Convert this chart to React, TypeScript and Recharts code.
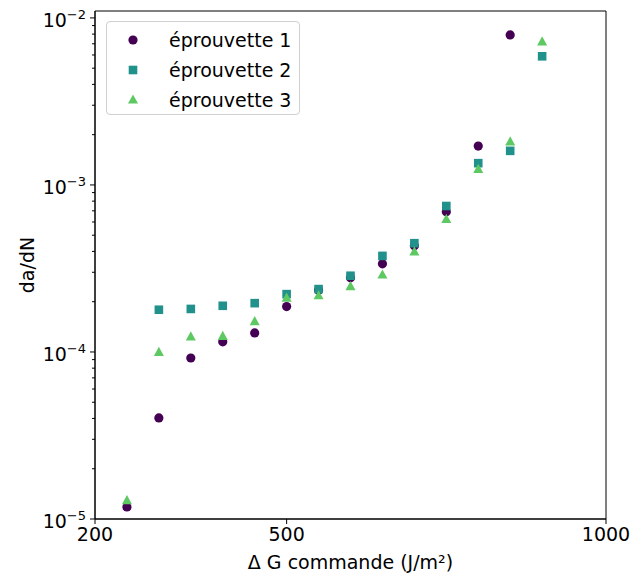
import React from 'react';
import {
  ScatterChart,
  Scatter,
  XAxis,
  YAxis,
  Legend,
  ReferenceArea,
  Label
} from 'recharts';

const FONT = '"DejaVu Sans", sans-serif';

// ΔG commande (J/m²)
const dG1 = [250, 300, 350, 400, 450, 500, 550, 600, 650, 700, 750, 800, 850];
const dG2 = [300, 350, 400, 450, 500, 550, 600, 650, 700, 750, 800, 850, 900];
const dG3 = [250, 300, 350, 400, 450, 500, 550, 600, 650, 700, 750, 800, 850, 900];

// da/dN
const da1 = [1.18e-5, 4.03e-5, 9.2e-5, 1.15e-4, 1.3e-4, 1.87e-4, 2.35e-4, 2.78e-4, 3.37e-4, 4.32e-4, 6.92e-4, 1.71e-3, 7.91e-3];
const da2 = [1.79e-4, 1.81e-4, 1.89e-4, 1.96e-4, 2.22e-4, 2.38e-4, 2.86e-4, 3.76e-4, 4.48e-4, 7.48e-4, 1.35e-3, 1.6e-3, 5.89e-3];
const da3 = [1.29e-5, 9.94e-5, 1.23e-4, 1.24e-4, 1.52e-4, 2.1e-4, 2.17e-4, 2.46e-4, 2.89e-4, 3.97e-4, 6.22e-4, 1.24e-3, 1.81e-3, 7.18e-3];

const seriesNames = ['éprouvette 1', 'éprouvette 2', 'éprouvette 3'];
const colors = ['#440154', '#21918c', '#5ec962'];

const xTicks = [200, 500, 1000];
const yMajor = [1e-5, 1e-4, 1e-3, 1e-2];
const yTicks: number[] = [];
[-5, -4, -3].forEach((e) => {
  for (let m = 1; m <= 9; m++) yTicks.push(m * Math.pow(10, e));
});
yTicks.push(1e-2);

const toPoints = (xs: number[], ys: number[]) => xs.map((x, i) => ({ x, y: ys[i] }));

const drawMarker = (kind: number, cx: number, cy: number, color: string) => {
  if (kind === 0) return <circle cx={cx} cy={cy} r={4.6} fill={color} />;
  if (kind === 1) return <rect x={cx - 4.3} y={cy - 4.3} width={8.6} height={8.6} fill={color} />;
  return (
    <polygon
      points={`${cx},${cy - 5.6} ${cx - 5},${cy + 3.6} ${cx + 5},${cy + 3.6}`}
      fill={color}
    />
  );
};

const shapeFor = (kind: number) => (props: any) => drawMarker(kind, props.cx, props.cy, colors[kind]);

const isMajor = (v: number) => yMajor.some((m) => Math.abs(m - v) / m < 1e-6);

const YTick = ({ x, y, payload }: any) => {
  const v = payload.value;
  const major = isMajor(v);
  const len = major ? 5 : 3;
  const exp = Math.round(Math.log10(v));
  return (
    <g>
      <line x1={x - len} x2={x} y1={y} y2={y} stroke="#000" strokeWidth={1} />
      {major && (
        <text x={x - 9} y={y + 9} textAnchor="end" fontSize={19} fontFamily={FONT} fill="#000">
          10
          <tspan dy={-8} fontSize={13}>{`−${Math.abs(exp)}`}</tspan>
        </text>
      )}
    </g>
  );
};

const XTick = ({ x, y, payload }: any) => (
  <g>
    <line x1={x} x2={x} y1={y} y2={y + 5} stroke="#000" strokeWidth={1} />
    <text x={x} y={y + 22} textAnchor="middle" fontSize={19} fontFamily={FONT} fill="#000">
      {payload.value}
    </text>
  </g>
);

const LegendBox = ({ payload }: any) => (
  <div
    style={{
      border: '1px solid #d0d0d0',
      borderRadius: 4,
      background: 'rgba(255,255,255,0.8)',
      width: 194,
      height: 94,
      boxSizing: 'border-box',
      paddingTop: 3,
      fontFamily: FONT,
      fontSize: 19
    }}
  >
    {(payload || []).map((entry: any, i: number) => (
      <div key={i} style={{ display: 'flex', alignItems: 'center', height: 30 }}>
        <svg width={62} height={30} style={{ display: 'block' }}>
          {drawMarker(i, 26, 15, colors[i])}
        </svg>
        <span style={{ color: '#000' }}>{entry.value}</span>
      </div>
    ))}
  </div>
);

export default function App() {
  return (
    <div style={{ position: 'absolute', left: 0, top: 0, background: '#fff' }}>
      <ScatterChart width={644} height={574} margin={{ top: 11, right: 38, bottom: 0, left: 0 }}>
        <ReferenceArea
          x1={200}
          x2={1000}
          y1={1e-5}
          y2={0.011}
          fill="none"
          stroke="#000"
          strokeWidth={1}
          ifOverflow="extendDomain"
        />
        <XAxis
          type="number"
          dataKey="x"
          domain={[200, 1000]}
          ticks={xTicks}
          allowDataOverflow
          height={55}
          tickLine={false}
          tickSize={0}
          tickMargin={0}
          tick={<XTick />}
          axisLine={{ stroke: '#000' }}
        >
          <Label
            content={({ viewBox }: any) => (
              <text
                x={viewBox.x + viewBox.width / 2}
                y={viewBox.y + 50}
                textAnchor="middle"
                fontSize={19}
                fontFamily={FONT}
                fill="#000"
              >
                Δ G commande (J/m²)
              </text>
            )}
          />
        </XAxis>
        <YAxis
          type="number"
          dataKey="y"
          scale="log"
          domain={[1e-5, 0.011]}
          ticks={yTicks}
          allowDataOverflow
          width={95}
          tickLine={false}
          tickSize={0}
          tickMargin={0}
          tick={<YTick />}
          axisLine={{ stroke: '#000' }}
          interval={0}
        >
          <Label
            content={({ viewBox }: any) => {
              const cx = viewBox.x + 27;
              const cy = viewBox.y + viewBox.height / 2;
              return (
                <text
                  x={cx}
                  y={cy}
                  transform={`rotate(-90 ${cx} ${cy})`}
                  textAnchor="middle"
                  dominantBaseline="central"
                  fontSize={19}
                  fontFamily={FONT}
                  fill="#000"
                >
                  da/dN
                </text>
              );
            }}
          />
        </YAxis>
        <Legend
          layout="horizontal"
          verticalAlign="middle"
          align="center"
          content={<LegendBox />}
          wrapperStyle={{ left: 106, top: 21, width: 194, height: 94 }}
        />
        <Scatter
          name={seriesNames[0]}
          data={toPoints(dG1, da1)}
          fill={colors[0]}
          shape={shapeFor(0)}
          isAnimationActive={false}
        />
        <Scatter
          name={seriesNames[1]}
          data={toPoints(dG2, da2)}
          fill={colors[1]}
          shape={shapeFor(1)}
          isAnimationActive={false}
        />
        <Scatter
          name={seriesNames[2]}
          data={toPoints(dG3, da3)}
          fill={colors[2]}
          shape={shapeFor(2)}
          isAnimationActive={false}
        />
      </ScatterChart>
    </div>
  );
}
